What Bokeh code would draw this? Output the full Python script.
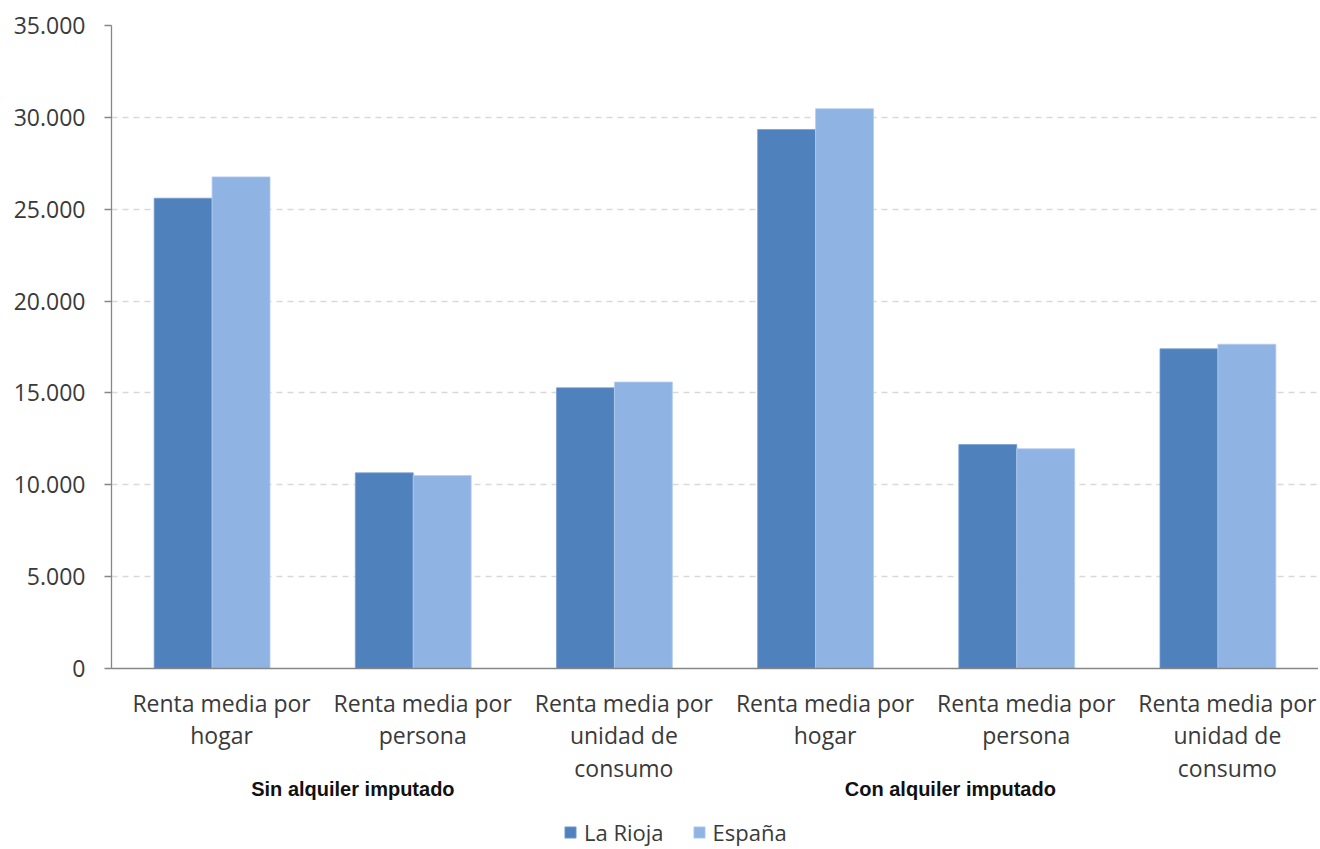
from bokeh.plotting import figure
from bokeh.layouts import column
from bokeh.models import (Range1d, FixedTicker, LinearAxis, Legend, LegendItem,
                          CustomJSTickFormatter, ColumnDataSource)
from bokeh.embed import file_html
from bokeh.resources import INLINE

categories = ["Renta media por\nhogar", "Renta media por\npersona", "Renta media por\nunidad de\nconsumo",
              "Renta media por\nhogar", "Renta media por\npersona", "Renta media por\nunidad de\nconsumo"]
groups = ["Sin alquiler imputado", "Con alquiler imputado"]
group_pos = [1.2, 4.17]
series_names = ["La Rioja", "España"]
la_rioja = [25600, 10650, 15280, 29340, 12190, 17400]
espana = [26760, 10500, 15590, 30470, 11960, 17650]
y_ticks = [0, 5000, 10000, 15000, 20000, 25000, 30000, 35000]

C1 = "#4F81BD"
C2 = "#8FB3E2"
TXT = "#3a3a3a"
AX = "#868686"
FONT = "Open Sans"

xc = [i + 0.5 for i in range(len(categories))]
label_shift = 0.047
bw = 0.288

p = figure(width=1318, height=802,
           x_range=Range1d(0, len(categories)), y_range=Range1d(0, 35000),
           output_backend="svg", toolbar_location=None,
           min_border_left=111, min_border_top=25, min_border_right=0, min_border_bottom=134)
p.outline_line_color = None
p.background_fill_color = "white"

src = ColumnDataSource(dict(x1=[x - bw / 2 for x in xc], x2=[x + bw / 2 for x in xc],
                            a=la_rioja, b=espana))
r1 = p.vbar(x="x1", top="a", width=bw, source=src, fill_color=C1, line_color="#7aa0d2", line_width=0.8)
r2 = p.vbar(x="x2", top="b", width=bw, source=src, fill_color=C2, line_color="#b5cdee", line_width=0.8)

# grid
p.xgrid.visible = False
p.ygrid.ticker = FixedTicker(ticks=y_ticks)
p.ygrid.grid_line_color = "#d9d9d9"
p.ygrid.grid_line_dash = "6 5"
p.ygrid.grid_line_width = 1.5

# y axis
ya = p.yaxis[0]
ya.ticker = FixedTicker(ticks=y_ticks)
ya.formatter = CustomJSTickFormatter(code="return tick.toFixed(0).replace(/\\B(?=(\\d{3})+(?!\\d))/g, '.');")
ya.axis_line_color = AX
ya.axis_line_width = 1.3
ya.major_tick_line_color = AX
ya.major_tick_line_width = 1.3
ya.major_tick_out = 7
ya.major_tick_in = 0
ya.minor_tick_line_color = None
ya.major_label_text_font = FONT
ya.major_label_text_font_size = "23px"
ya.major_label_text_color = TXT
ya.major_label_standoff = 19

# x axis (categories)
xl = [x + label_shift for x in xc]
xa = p.xaxis[0]
xa.ticker = FixedTicker(ticks=xl)
xa.major_label_overrides = {x: c for x, c in zip(xl, categories)}
xa.axis_line_color = AX
xa.axis_line_width = 1.3
xa.major_tick_line_color = None
xa.minor_tick_line_color = None
xa.major_label_text_font = FONT
xa.major_label_text_font_size = "23px"
xa.major_label_text_color = TXT
xa.major_label_text_line_height = 1.02
xa.major_label_standoff = 12

# group axis
ga = LinearAxis(ticker=FixedTicker(ticks=group_pos),
                major_label_overrides={x: g for x, g in zip(group_pos, groups)})
ga.axis_line_color = None
ga.major_tick_line_color = None
ga.minor_tick_line_color = None
ga.major_label_text_font = "Liberation Sans"
ga.major_label_text_font_style = "bold"
ga.major_label_text_font_size = "20px"
ga.major_label_text_color = "#111111"
ga.major_label_standoff = -15
p.add_layout(ga, "below")

# legend strip (its frame is aligned with the chart frame by the column layout)
lf = figure(width=1318, height=46, x_range=Range1d(0, 1), y_range=Range1d(0, 1),
            output_backend="svg", toolbar_location=None,
            min_border_left=0, min_border_right=0, min_border_top=0, min_border_bottom=0)
lf.axis.visible = False
lf.grid.visible = False
lf.outline_line_color = None
d1 = lf.vbar(x=[5], top=[1], width=0.1, fill_color=C1, line_color="#7aa0d2", line_width=0.8)
d2 = lf.vbar(x=[5], top=[1], width=0.1, fill_color=C2, line_color="#b5cdee", line_width=0.8)
legend = Legend(items=[LegendItem(label=series_names[0], renderers=[d1]),
                       LegendItem(label=series_names[1], renderers=[d2])],
                orientation="horizontal", location=(452, 1),
                glyph_width=14, glyph_height=14, label_standoff=7, spacing=28,
                label_text_font=FONT, label_text_font_size="22px", label_text_color=TXT,
                label_height=22, border_line_color=None, background_fill_alpha=0,
                padding=0, margin=0)
lf.add_layout(legend, "center")

layout = column(p, lf, spacing=0)
open("out.html", "w").write(file_html(layout, INLINE))
